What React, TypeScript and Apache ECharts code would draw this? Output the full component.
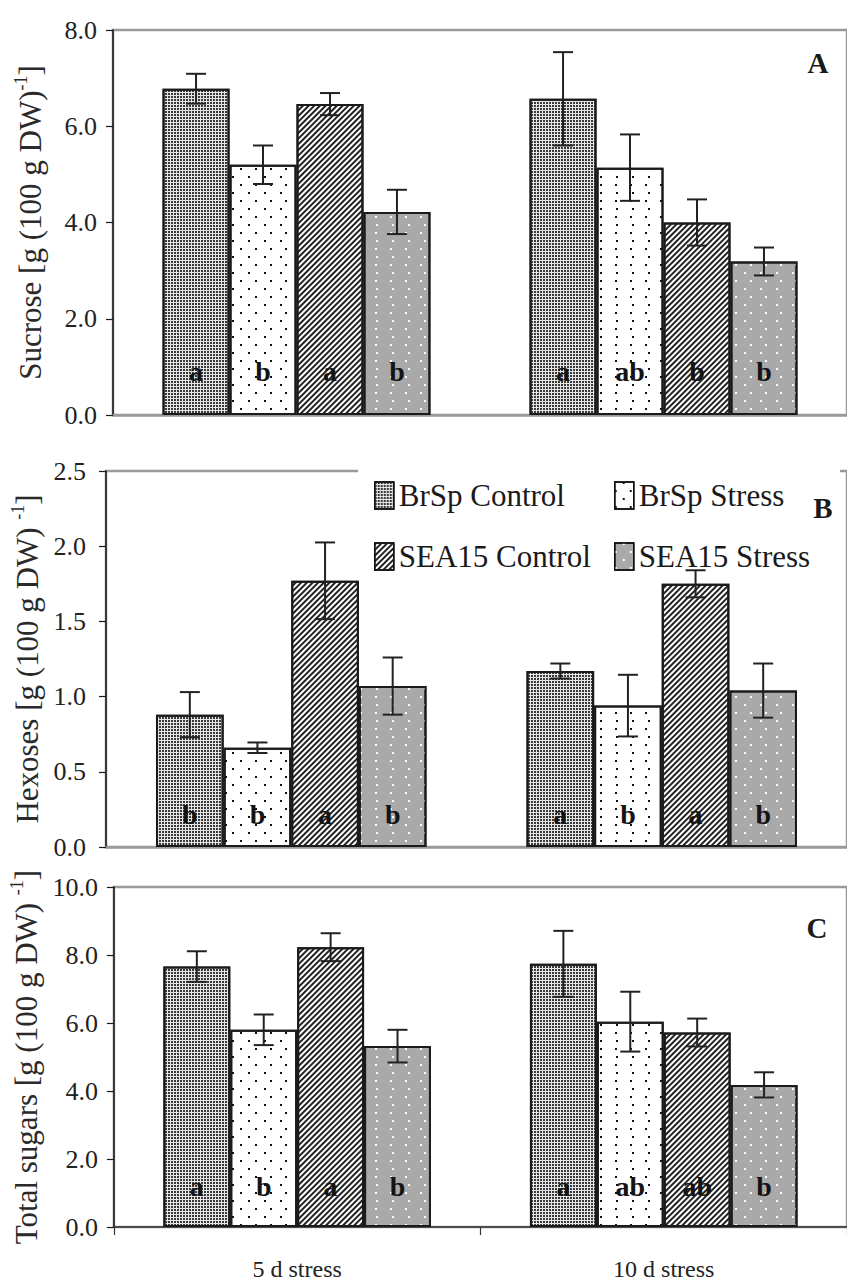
import React, { useEffect, useRef } from "react";
import * as echarts from "echarts";

const categories = ["5 d stress", "10 d stress"];
const seriesNames = ["BrSp Control", "BrSp Stress", "SEA15 Control", "SEA15 Stress"];

// values per series: [5 d stress, 10 d stress]
const sucroseMean = [[6.78, 6.57], [5.2, 5.14], [6.46, 4.0], [4.22, 3.19]];
const sucroseErr = [[0.31, 0.97], [0.4, 0.69], [0.23, 0.48], [0.46, 0.29]];
const sucroseLetters = [["a", "a"], ["b", "ab"], ["a", "b"], ["b", "b"]];

const hexoseMean = [[0.88, 1.17], [0.66, 0.94], [1.77, 1.75], [1.07, 1.04]];
const hexoseErr = [[0.15, 0.05], [0.035, 0.205], [0.255, 0.09], [0.19, 0.18]];
const hexoseLetters = [["b", "a"], ["b", "b"], ["a", "a"], ["b", "b"]];

const totalMean = [[7.66, 7.74], [5.8, 6.04], [8.23, 5.72], [5.32, 4.18]];
const totalErr = [[0.45, 0.97], [0.45, 0.88], [0.41, 0.41], [0.48, 0.37]];
const totalLetters = [["a", "a"], ["b", "ab"], ["a", "ab"], ["b", "b"]];

const yMax = [8, 2.5, 10];
const yInterval = [2, 0.5, 2];
const yNames = [
  "Sucrose [g (100 g DW){sup|-1}]",
  "Hexoses [g (100 g DW) {sup|-1}]",
  "Total sugars [g (100 g DW) {sup|-1}]",
];
const panelLetters = ["A", "B", "C"];

const FONT = "Liberation Serif";

const styles: any[] = [
  {
    color: "#e6e6e6",
    decal: { symbol: "rect", symbolSize: 1, dashArrayX: [2, 1], dashArrayY: [2, 1], color: "#3a3a3a" },
  },
  {
    color: "#ffffff",
    decal: {
      symbol: "rect",
      symbolSize: 1,
      dashArrayX: [[2, 13], [0, 7.5, 2, 5.5]],
      dashArrayY: [2, 6],
      color: "#111111",
    },
  },
  {
    color: "#ffffff",
    decal: { symbol: "rect", symbolSize: 1, dashArrayX: [1, 0], dashArrayY: [2, 2], rotation: -Math.PI / 4, color: "#222222" },
  },
  {
    color: "#a9a9a9",
    decal: {
      symbol: "rect",
      symbolSize: 1,
      dashArrayX: [[2, 13], [0, 7.5, 2, 5.5]],
      dashArrayY: [2, 6],
      color: "#ffffff",
    },
  },
];

const grids = [
  { left: 113, top: 30, width: 736, height: 385 },
  { left: 106, top: 471, width: 749, height: 376 },
  { left: 108, top: 887, width: 744, height: 340 },
];
const labelDist = [30, 19, 27];
const nameGaps = [65, 57, 63];
const gapPct = 0.27;

export default function App() {
  const ref = useRef<HTMLDivElement>(null);
  useEffect(() => {
    document.body.style.margin = "0";
    const chart = echarts.init(ref.current!, null, { renderer: "svg" });
    const means = [sucroseMean, hexoseMean, totalMean];
    const errs = [sucroseErr, hexoseErr, totalErr];
    const letters = [sucroseLetters, hexoseLetters, totalLetters];

    const series: any[] = [];
    for (let p = 0; p < 3; p++) {
      for (let j = 0; j < 4; j++) {
        series.push({
          type: "bar",
          name: seriesNames[j],
          xAxisIndex: p,
          yAxisIndex: p,
          data: means[p][j],
          barGap: "0%",
          barCategoryGap: gapPct * 100 + "%",
          itemStyle: { color: styles[j].color, decal: styles[j].decal, borderColor: "#1a1a1a", borderWidth: 2 },
          label: {
            show: true,
            position: "insideBottom",
            distance: labelDist[p],
            formatter: (prm: any) => letters[p][j][prm.dataIndex],
            fontFamily: FONT,
            fontWeight: "bold",
            fontSize: 28,
            color: "#141414",
          },
          emphasis: { disabled: true },
          z: 2,
        });
      }
      const edata: any[] = [];
      for (let j = 0; j < 4; j++)
        for (let c = 0; c < 2; c++) edata.push([c, j, means[p][j][c], errs[p][j][c]]);
      series.push({
        type: "custom",
        xAxisIndex: p,
        yAxisIndex: p,
        data: edata,
        encode: { x: 0, y: 2 },
        z: 3,
        silent: true,
        renderItem: (params: any, api: any) => {
          const c = api.value(0);
          const j = api.value(1);
          const m = api.value(2);
          const e = api.value(3);
          const catW = api.size([1, 0])[0];
          const bw = (catW * (1 - gapPct)) / 4;
          const x = api.coord([c, m])[0] + (j - 1.5) * bw;
          const yT = api.coord([c, m + e])[1];
          const yB = api.coord([c, m - e])[1];
          const st = { stroke: "#222", lineWidth: 2 };
          return {
            type: "group",
            children: [
              { type: "line", shape: { x1: x, y1: yT, x2: x, y2: yB }, style: st },
              { type: "line", shape: { x1: x - 10, y1: yT, x2: x + 10, y2: yT }, style: st },
              { type: "line", shape: { x1: x - 10, y1: yB, x2: x + 10, y2: yB }, style: st },
            ],
          };
        },
      });
    }

    const xAxis = [0, 1, 2].map((p) => ({
      type: "category",
      gridIndex: p,
      data: categories,
      axisLine: { show: true, lineStyle: p === 2 ? { color: "#333", width: 1.5 } : { color: "#9a9a9a", width: 2.5 } },
      axisTick: { show: p === 2, length: 8, lineStyle: { color: "#333", width: 1.2 } },
      axisLabel: { show: p === 2, fontFamily: FONT, fontSize: 24, color: "#222", margin: 30 },
    }));

    const yAxis = [0, 1, 2].map((p) => ({
      type: "value",
      gridIndex: p,
      min: 0,
      max: yMax[p],
      interval: yInterval[p],
      name: yNames[p],
      nameLocation: "middle",
      nameGap: nameGaps[p],
      nameRotate: 90,
      nameTextStyle: {
        fontFamily: FONT,
        fontSize: 31,
        color: "#2a2a2a",
        rich: { sup: { fontFamily: FONT, fontSize: 18, color: "#2a2a2a", verticalAlign: "top", lineHeight: 36 } },
      },
      axisLine: { show: true, lineStyle: { color: "#1a1a1a", width: 1.5 } },
      axisTick: { show: true, length: 7, lineStyle: { color: "#1a1a1a", width: 1.2 } },
      axisLabel: {
        fontFamily: FONT,
        fontSize: 26,
        color: "#222",
        margin: p === 1 ? 20 : 16,
        formatter: (v: number) => v.toFixed(1),
      },
      splitLine: { show: false },
    }));

    const legendCommon = {
      orient: "vertical",
      top: 480,
      itemWidth: 19,
      itemHeight: 27,
      itemGap: 30,
      padding: 0,
      icon: "rect",
      selectedMode: false,
      z: 20,
      itemStyle: { borderColor: "#111", borderWidth: 1.5 },
      textStyle: { fontFamily: FONT, fontSize: 31, color: "#1a1a1a", lineHeight: 30 },
    };

    chart.setOption({
      animation: false,
      aria: { enabled: false },
      textStyle: { fontFamily: FONT },
      grid: grids.map((g) => ({ ...g, show: true, borderColor: "#9a9a9a", borderWidth: 2.5, backgroundColor: "transparent", containLabel: false })),
      xAxis,
      yAxis,
      legend: [
        { ...legendCommon, left: 374, data: ["BrSp Control", "SEA15 Control"] },
        { ...legendCommon, left: 614, data: ["BrSp Stress", "SEA15 Stress"] },
      ],
      graphic: [
        { type: "rect", z: 10, shape: { x: 358, y: 460, width: 482, height: 108 }, style: { fill: "#fff" } },
        ...panelLetters.map((t, i) => ({
          type: "text",
          z: 30,
          x: [818, 823, 817][i],
          y: [63, 508, 928][i],
          style: { text: t, fontFamily: FONT, fontWeight: "bold", fontSize: 29, fill: "#1a1a1a", align: "center", verticalAlign: "middle" },
        })),
      ],
      series,
    });
    return () => chart.dispose();
  }, []);
  return <div ref={ref} style={{ position: "absolute", left: 0, top: 0, width: 847, height: 1284 }} />;
}
